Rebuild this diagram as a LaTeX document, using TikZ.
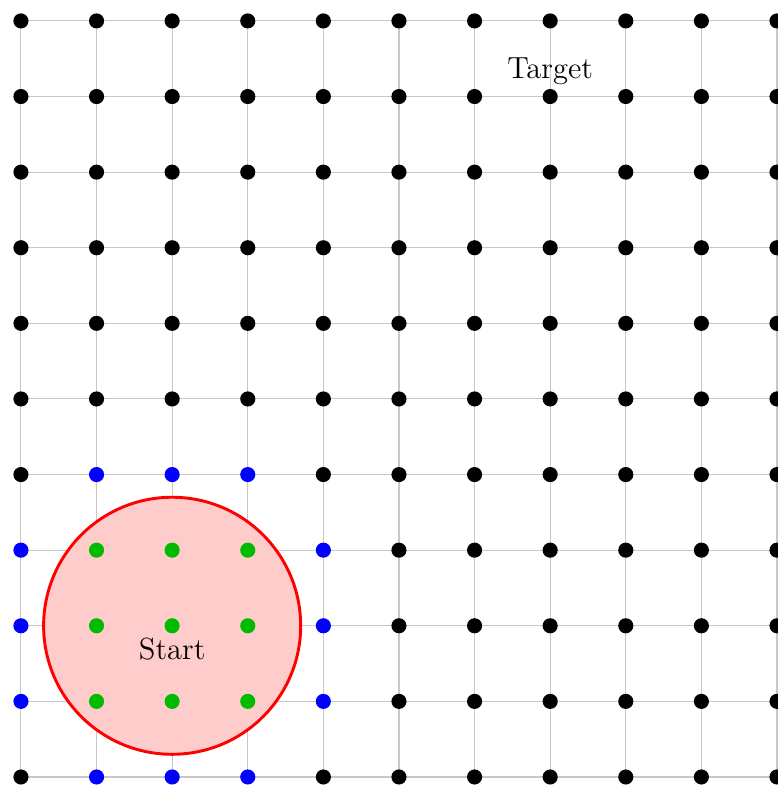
\documentclass[tikz,border=0pt]{standalone}
\usepackage{xcolor}
\definecolor{cGrid}{HTML}{C8C8C8}
\definecolor{cInner}{HTML}{00BB00}
\definecolor{cRing}{HTML}{0000FF}
\definecolor{cZone}{HTML}{FF0000}
\usepackage{tikz}
\usetikzlibrary{positioning}
\tikzset{
  grid-line/.style={draw=cGrid,line width=0.4pt},
  node-dot/.style={circle,fill=black,inner sep=0pt,minimum size=2mm},
  node-inner/.style={fill=cInner},
  node-ring/.style={fill=cRing},
  node-plain/.style={fill=black},
  zone/.style={draw=cZone,line width=1.1pt,fill=cZone!20},
  node-label/.style={font=\fontsize{11.5}{13.5}\selectfont,inner sep=4.3pt},
}

\begin{document}
\begin{tikzpicture}
  \useasboundingbox (-0.277,-0.106) rectangle (10.013,10.277);
  \draw[grid-line] (0,0) grid (10,10);
  \draw[zone] (2,2) circle (1.7);
  % punkte: innen gruen, rand blau, sonst schwarz
  \foreach \x in {0,...,10} {
    \foreach \y in {0,...,10} {
      \pgfmathtruncatemacro{\dmax}{max(abs(\x-2),abs(\y-2))}
      \pgfmathtruncatemacro{\dmin}{min(abs(\x-2),abs(\y-2))}
      \def\kind{node-plain}
      \ifnum\dmax<2 \def\kind{node-inner}\fi
      \ifnum\dmax=2 \ifnum\dmin<2 \def\kind{node-ring}\fi\fi
      \node[node-dot,\kind] (p-\x-\y) at (\x,\y) {};
    }
  }
  \node[node-label,below=0pt of p-2-2.center] (start) {Start};
  \node[node-label,above=0pt of p-7-9.center] (target) {Target};
\end{tikzpicture}
\end{document}
